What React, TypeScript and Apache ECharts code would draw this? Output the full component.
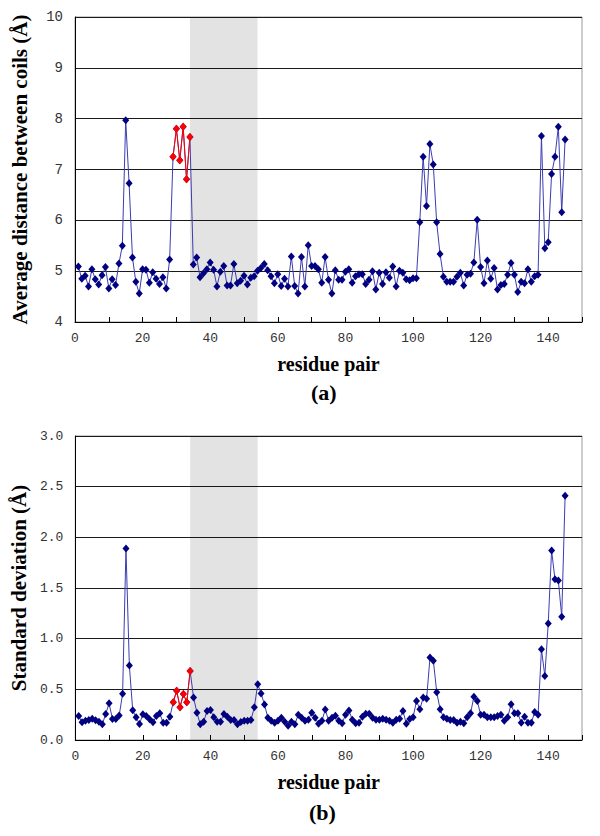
import React, { useEffect, useRef } from "react";
import * as echarts from "echarts";

// Residue pair numbers run 1..145 (index + 1)
const avgDistance = [
  5.09, 4.85, 4.91, 4.70, 5.04, 4.84, 4.74, 4.92, 5.08, 4.66,
  4.84, 4.73, 5.15, 5.50, 7.97, 6.73, 5.27, 4.79, 4.56, 5.04,
  5.03, 4.77, 4.98, 4.85, 4.75, 4.88, 4.66, 5.23, 7.25, 7.80,
  7.18, 7.84, 6.81, 7.64, 5.13, 5.27, 4.88, 4.96, 5.04, 5.17,
  5.03, 4.70, 4.99, 5.10, 4.72, 4.72, 5.14, 4.76, 4.81, 4.91,
  4.74, 4.87, 4.90, 5.01, 5.06, 5.14, 5.02, 4.90, 4.76, 4.94,
  4.71, 4.85, 4.70, 5.29, 4.71, 4.56, 5.28, 4.70, 5.51, 5.10,
  5.10, 5.04, 4.77, 5.28, 4.83, 4.56, 5.02, 4.83, 4.83, 4.99,
  5.04, 4.77, 4.90, 4.94, 4.94, 4.75, 4.83, 5.00, 4.64, 4.97,
  4.75, 4.98, 4.87, 5.09, 4.70, 5.01, 4.97, 4.84, 4.82, 4.86,
  4.86, 5.96, 7.25, 6.28, 7.50, 7.10, 5.96, 5.34, 4.89, 4.79,
  4.79, 4.79, 4.89, 4.97, 4.72, 4.93, 4.95, 5.17, 6.01, 5.08,
  4.76, 5.21, 4.85, 5.06, 4.64, 4.73, 4.75, 4.93, 5.16, 4.93,
  4.59, 4.79, 4.76, 5.04, 4.79, 4.90, 4.93, 7.66, 5.45, 5.57,
  6.91, 7.25, 7.84, 6.16, 7.59,
];

const stdDeviation = [
  0.237, 0.174, 0.19, 0.197, 0.21, 0.194, 0.181, 0.155, 0.257, 0.362,
  0.207, 0.207, 0.243, 0.457, 1.89, 0.734, 0.293, 0.224, 0.158, 0.254,
  0.237, 0.204, 0.174, 0.237, 0.263, 0.171, 0.171, 0.23, 0.372, 0.487,
  0.323, 0.455, 0.372, 0.681, 0.42, 0.27, 0.155, 0.18, 0.286, 0.296,
  0.224, 0.18, 0.18, 0.257, 0.23, 0.197, 0.197, 0.155, 0.178, 0.19,
  0.19, 0.197, 0.323, 0.55, 0.46, 0.35, 0.22, 0.19, 0.17, 0.19,
  0.22, 0.18, 0.14, 0.18, 0.155, 0.25, 0.22, 0.19, 0.2, 0.27,
  0.22, 0.16, 0.19, 0.3, 0.19, 0.22, 0.24, 0.19, 0.165, 0.25,
  0.29, 0.2, 0.165, 0.17, 0.23, 0.26, 0.26, 0.22, 0.2, 0.2,
  0.21, 0.2, 0.19, 0.17, 0.2, 0.21, 0.286, 0.16, 0.207, 0.224,
  0.385, 0.303, 0.42, 0.408, 0.813, 0.783, 0.47, 0.303, 0.224, 0.21,
  0.197, 0.197, 0.171, 0.18, 0.165, 0.224, 0.263, 0.427, 0.385, 0.25,
  0.25, 0.224, 0.224, 0.224, 0.237, 0.25, 0.19, 0.224, 0.352, 0.263,
  0.263, 0.171, 0.23, 0.171, 0.171, 0.276, 0.25, 0.895, 0.632, 1.15,
  1.87, 1.586, 1.573, 1.217, 2.41,
];

const redResidues = [29, 30, 31, 32, 33, 34];
const shadedRange = [34, 54];
const xTickLabels = ["0", "20", "40", "60", "80", "100", "120", "140"];
const topYTicks = [4, 5, 6, 7, 8, 9, 10];
const bottomYTicks = ["0.0", "0.5", "1.0", "1.5", "2.0", "2.5", "3.0"];

const toPairs = (vals: number[]) => vals.map((v, i) => [i + 1, v]);
const toRedPairs = (vals: number[]) => redResidues.map((r) => [r, vals[r - 1]]);

const TICK_FONT = "Liberation Mono";
const TITLE_FONT = "Liberation Serif";

export default function App() {
  const ref = useRef<HTMLDivElement>(null);

  useEffect(() => {
    if (!ref.current) return;
    const chart = echarts.init(ref.current, undefined, { renderer: "svg" });

    const xAxisCommon = (gridIndex: number) => ({
      type: "value" as const,
      gridIndex,
      min: 0,
      max: 150,
      interval: 10,
      name: "residue pair",
      nameLocation: "middle" as const,
      nameGap: 32,
      nameTextStyle: { fontFamily: TITLE_FONT, fontWeight: "bold", fontSize: 20, color: "#000" },
      axisLine: { show: true, lineStyle: { color: "#000", width: 1 } },
      axisTick: { show: true, inside: true, length: 5, lineStyle: { color: "#000" } },
      axisLabel: {
        color: "#333",
        fontFamily: TICK_FONT,
        fontSize: 13,
        margin: 10,
        formatter: (v: number) => (xTickLabels.includes(String(v)) ? String(v) : ""),
      },
      splitLine: { show: false },
    });

    const blueLine = { color: "#3c3cb0", width: 1 };
    const blueItem = { color: "#000080" };
    const redLine = { color: "#ff0000", width: 1 };
    const redItem = { color: "#ff0000" };

    const band = {
      silent: true,
      itemStyle: { color: "rgba(0,0,0,0.11)" },
      data: [[{ xAxis: shadedRange[0] }, { xAxis: shadedRange[1] }]],
    };

    const yName = { fontFamily: TITLE_FONT, fontWeight: "bold", fontSize: 21, color: "#000" };

    chart.setOption({
      animation: false,
      backgroundColor: "#fff",
      grid: [
        { left: 75, top: 17, width: 507, height: 305, show: true, borderColor: "#9a9a9a", borderWidth: 1 },
        { left: 75, top: 436, width: 507, height: 304, show: true, borderColor: "#9a9a9a", borderWidth: 1 },
      ],
      xAxis: [xAxisCommon(0), xAxisCommon(1)],
      yAxis: [
        {
          type: "value",
          gridIndex: 0,
          min: topYTicks[0],
          max: topYTicks[topYTicks.length - 1],
          interval: 1,
          name: "Average distance between coils (Å)",
          nameLocation: "middle",
          nameGap: 45,
          nameTextStyle: yName,
          axisLine: { show: true, lineStyle: { color: "#000" } },
          axisTick: { show: false },
          axisLabel: { color: "#333", fontFamily: TICK_FONT, fontSize: 14, margin: 12 },
          splitLine: { show: true, lineStyle: { color: "#1a1a1a", width: 1 } },
        },
        {
          type: "value",
          gridIndex: 1,
          min: 0,
          max: 3,
          interval: 0.5,
          name: "Standard deviation (Å)",
          nameLocation: "middle",
          nameGap: 45,
          nameTextStyle: yName,
          axisLine: { show: true, lineStyle: { color: "#000" } },
          axisTick: { show: false },
          axisLabel: {
            color: "#333",
            fontFamily: TICK_FONT,
            fontSize: 13,
            margin: 12,
            formatter: (v: number) => bottomYTicks[Math.round(v * 2)],
          },
          splitLine: { show: true, lineStyle: { color: "#1a1a1a", width: 1 } },
        },
      ],
      graphic: [
        {
          type: "text",
          left: 311,
          top: 381,
          style: { text: "(a)", fontFamily: TITLE_FONT, fontWeight: "bold", fontSize: 22, fill: "#000" },
        },
        {
          type: "text",
          left: 309,
          top: 801,
          style: { text: "(b)", fontFamily: TITLE_FONT, fontWeight: "bold", fontSize: 22, fill: "#000" },
        },
      ],
      series: [
        {
          type: "line",
          xAxisIndex: 0,
          yAxisIndex: 0,
          data: toPairs(avgDistance),
          symbol: "diamond",
          symbolSize: [7, 8],
          lineStyle: blueLine,
          itemStyle: blueItem,
          markArea: band,
          z: 2,
        },
        {
          type: "line",
          xAxisIndex: 0,
          yAxisIndex: 0,
          data: toRedPairs(avgDistance),
          symbol: "diamond",
          symbolSize: [7, 8],
          lineStyle: redLine,
          itemStyle: redItem,
          z: 3,
        },
        {
          type: "line",
          xAxisIndex: 1,
          yAxisIndex: 1,
          data: toPairs(stdDeviation),
          symbol: "diamond",
          symbolSize: [7, 8],
          lineStyle: blueLine,
          itemStyle: blueItem,
          markArea: band,
          z: 2,
        },
        {
          type: "line",
          xAxisIndex: 1,
          yAxisIndex: 1,
          data: toRedPairs(stdDeviation),
          symbol: "diamond",
          symbolSize: [7, 8],
          lineStyle: redLine,
          itemStyle: redItem,
          z: 3,
        },
      ],
    });

    return () => chart.dispose();
  }, []);

  return (
    <div
      ref={ref}
      style={{ position: "absolute", left: 0, top: 0, width: 600, height: 836, background: "#fff" }}
    />
  );
}
